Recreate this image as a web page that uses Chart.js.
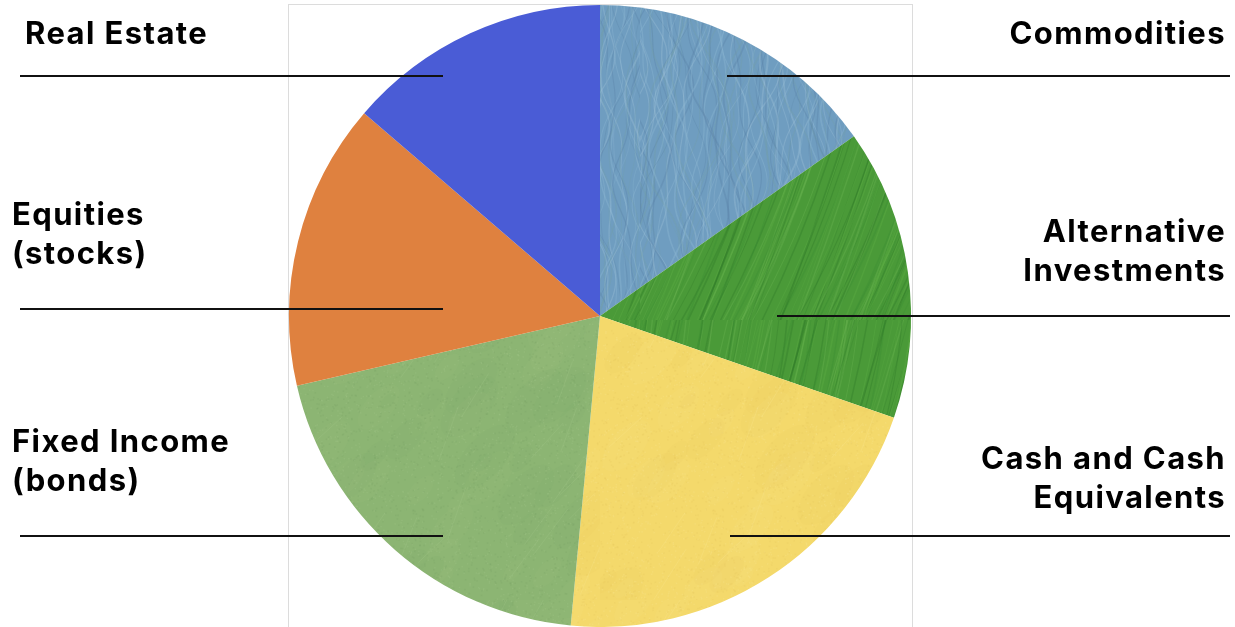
<!DOCTYPE html>
<html>
<head>
<meta charset="utf-8">
<script src="https://cdn.jsdelivr.net/npm/chart.js@4.4.1/dist/chart.umd.min.js"></script>
<style>
  html, body { margin: 0; padding: 0; background: #fff; }
  #wrap { position: relative; width: 1235px; height: 627px; }
</style>
</head>
<body>
<div id="wrap"><canvas id="allocChart" width="1235" height="627"></canvas></div>
<script>
// Portfolio allocation (%), clockwise from 12 o'clock
const categories = ['Commodities', 'Alternative Investments', 'Cash and Cash Equivalents', 'Fixed Income (bonds)', 'Equities (stocks)', 'Real Estate'];
const shares = [15.2, 15.1, 21.2, 19.9, 14.9, 13.7];

// Label text as it is broken over lines next to the pie
const labelLines = [
    ['Commodities'],
    ['Alternative', 'Investments'],
    ['Cash and Cash', 'Equivalents'],
    ['Fixed Income', '(bonds)'],
    ['Equities', '(stocks)'],
    ['Real Estate']
];

// Where each label and its leader line sit
const labelLayout = [
    { side: 'right', textY: 44,  lineY: 76,  lineEnd: 727 },
    { side: 'right', textY: 242, lineY: 316, lineEnd: 777 },
    { side: 'right', textY: 469, lineY: 536, lineEnd: 730 },
    { side: 'left',  textY: 452, lineY: 536, lineEnd: 443 },
    { side: 'left',  textY: 225, lineY: 309, lineEnd: 443 },
    { side: 'left',  textY: 44,  lineY: 76,  lineEnd: 443 }
];

// cheap deterministic hash for texture speckle
function hash(n) {
    const s = Math.sin(n * 12.9898 + 78.233) * 43758.5453;
    return s - Math.floor(s);
}

function makeTile(size, paint) {
    const c = document.createElement('canvas');
    c.width = size; c.height = size;
    paint(c.getContext('2d'), size);
    return document.getElementById('allocChart').getContext('2d').createPattern(c, 'repeat');
}

// wavy painted strokes, blue-grey
const commoditiesFill = makeTile(320, (g, s) => {
    g.fillStyle = '#6f9dc0';
    g.fillRect(0, 0, s, s);
    const cols = ['rgba(140,182,210,0.4)', 'rgba(88,130,165,0.35)', 'rgba(115,160,165,0.3)', 'rgba(165,198,220,0.3)'];
    for (let i = 0; i < 160; i++) {
        g.strokeStyle = cols[i % cols.length];
        g.lineWidth = 0.6 + hash(i) * 1.2;
        const x0 = i * (s / 160) * 1.2 - 20;
        const amp = 8 + hash(i + 3) * 12;
        const ph = hash(i + 7) * 6.28;
        g.beginPath();
        for (let y = -5; y <= s + 5; y += 4) {
            const x = x0 + amp * Math.sin(y / 42 + ph) + 4 * Math.sin(y / 15 + i);
            if (y === -5) g.moveTo(x, y); else g.lineTo(x, y);
        }
        g.stroke();
    }
});

// diagonal brush streaks, green
const alternativeFill = makeTile(320, (g, s) => {
    g.fillStyle = '#4a9a38';
    g.fillRect(0, 0, s, s);
    const cols = ['rgba(95,175,70,0.35)', 'rgba(45,120,40,0.35)', 'rgba(120,190,90,0.25)', 'rgba(55,140,50,0.3)'];
    for (let i = 0; i < 220; i++) {
        g.strokeStyle = cols[i % cols.length];
        g.lineWidth = 0.6 + hash(i * 2) * 1.2;
        const x0 = hash(i + 11) * s * 2 - s * 0.5;
        const bend = (hash(i + 5) - 0.5) * 40;
        g.beginPath();
        g.moveTo(x0, s + 10);
        g.quadraticCurveTo(x0 + 0.25 * s + bend, s * 0.5, x0 + 0.35 * s, -10);
        g.stroke();
    }
});

// fine paper grain with a few faint streaks
function grained(base, light, dark) {
    return makeTile(300, (g, s) => {
        g.fillStyle = base;
        g.fillRect(0, 0, s, s);
        for (let i = 0; i < 60; i++) {
            const x = hash(i) * s, y = hash(i + 100) * s;
            const r = 10 + hash(i + 200) * 30;
            g.fillStyle = i % 2 ? light : dark;
            g.globalAlpha = 0.35;
            g.beginPath();
            g.ellipse(x, y, r, r * 0.5, 2.3, 0, Math.PI * 2);
            g.fill();
        }
        g.globalAlpha = 1;
        for (let i = 0; i < 4000; i++) {
            g.fillStyle = i % 2 ? light : dark;
            g.fillRect(hash(i + 1000) * s, hash(i + 9000) * s, 1.5, 1.5);
        }
        for (let i = 0; i < 30; i++) {
            g.strokeStyle = light;
            g.lineWidth = 1;
            const x = hash(i + 500) * s, y = hash(i + 600) * s;
            g.beginPath();
            g.moveTo(x, y);
            g.lineTo(x + 15 + hash(i) * 20, y - 25 - hash(i + 1) * 30);
            g.stroke();
        }
    });
}

const cashFill = grained('#f4d96b', 'rgba(250,230,140,0.3)', 'rgba(228,196,90,0.22)');
const fixedFill = grained('#8cb573', 'rgba(160,198,135,0.28)', 'rgba(118,160,98,0.22)');

const sliceFills = [commoditiesFill, alternativeFill, cashFill, fixedFill, '#df813f', '#4a5cd6'];

// grey frame behind the pie
const framePlugin = {
    id: 'frame',
    beforeDatasetsDraw(chart) {
        const { ctx, chartArea } = chart;
        ctx.save();
        ctx.strokeStyle = '#dcdcdc';
        ctx.lineWidth = 1;
        ctx.strokeRect(chartArea.left - 0.5, chartArea.top - 0.5, chartArea.right - chartArea.left + 2, chartArea.bottom - chartArea.top + 10);
        ctx.restore();
    }
};

// side labels with horizontal leader lines into the slices
const sideLabels = {
    id: 'sideLabels',
    afterDatasetsDraw(chart) {
        const { ctx, width } = chart;
        ctx.save();
        ctx.font = '700 31px Inter, "DejaVu Sans", sans-serif';
        ctx.letterSpacing = '1.4px';
        ctx.fillStyle = '#000';
        ctx.textBaseline = 'alphabetic';
        labelLayout.forEach((l, i) => {
            const left = l.side === 'left';
            ctx.textAlign = left ? 'left' : 'right';
            const tx = left ? (labelLines[i].length > 1 ? 12 : 25) : width - 9;
            labelLines[i].forEach((t, k) => ctx.fillText(t, tx, l.textY + k * 39));
            ctx.strokeStyle = '#111';
            ctx.lineWidth = 2;
            ctx.beginPath();
            if (left) { ctx.moveTo(20, l.lineY); ctx.lineTo(l.lineEnd, l.lineY); }
            else { ctx.moveTo(l.lineEnd, l.lineY); ctx.lineTo(width - 5, l.lineY); }
            ctx.stroke();
        });
        ctx.restore();
    }
};

new Chart(document.getElementById('allocChart'), {
    type: 'pie',
    data: {
        labels: categories,
        datasets: [{
            data: shares,
            backgroundColor: sliceFills,
            borderWidth: 0
        }]
    },
    options: {
        responsive: false,
        animation: false,
        events: [],
        layout: { padding: { left: 289, right: 324, top: 5, bottom: 0 } },
        plugins: {
            legend: { display: false },
            tooltip: { enabled: false }
        }
    },
    plugins: [framePlugin, sideLabels]
});
</script>
</body>
</html>
